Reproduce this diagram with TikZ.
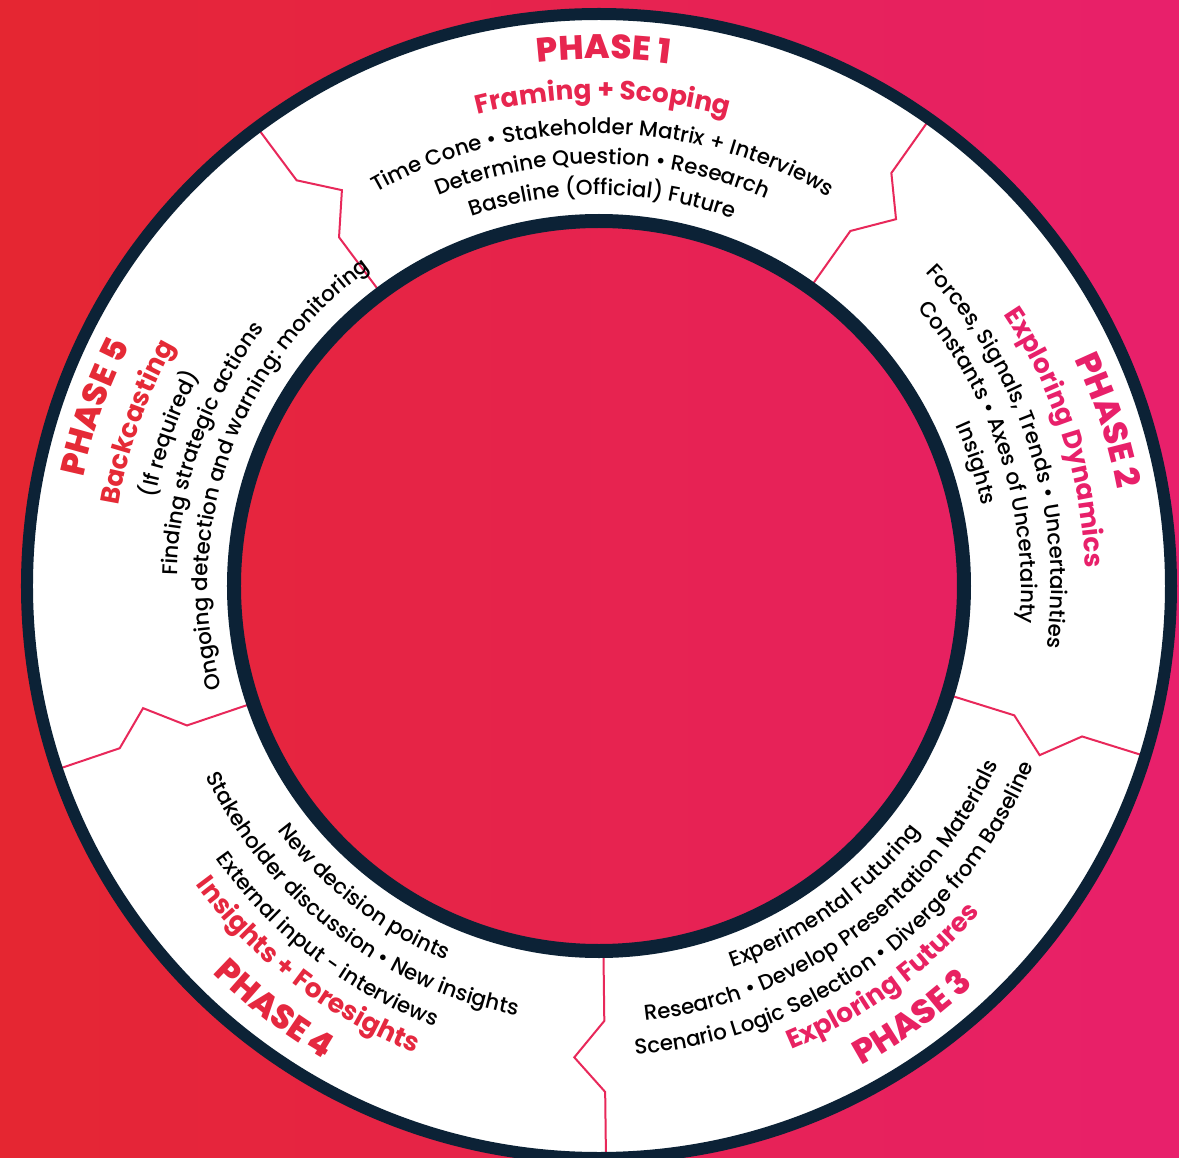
\documentclass[tikz,border=0pt]{standalone}
\usepackage{fontspec}
\IfFontExistsTF{Poppins Medium}{%
  \setmainfont{Poppins}[UprightFont={* Medium},BoldFont={* Bold}]}{%
  \setmainfont{Poppins}}
\IfFontExistsTF{Poppins ExtraBold}{%
  \newfontfamily\heavyfam{Poppins ExtraBold}}{%
  \newfontfamily\heavyfam{Poppins}[UprightFont={* Bold}]}
\usetikzlibrary{decorations.text}
\definecolor{bgL}{HTML}{E52631}
\definecolor{bgR}{HTML}{E8206C}
\definecolor{navy}{HTML}{0C2236}
\definecolor{sepc}{HTML}{E8285A}
\definecolor{pA}{HTML}{E52A36}
\definecolor{pB}{HTML}{E5283F}
\definecolor{pC}{HTML}{E7264F}
\definecolor{pD}{HTML}{E82262}
\definecolor{pE}{HTML}{E8206A}
\newcommand\titlef{\fontsize{34}{34}\selectfont\heavyfam}
\newcommand\subf{\fontsize{26.5}{26.5}\selectfont\bfseries}
\newcommand\bodyf{\fontsize{21.5}{21.5}\selectfont\color{black}}
\newcommand\cwtext[4]{\path[decorate,decoration={text along path,text align=center,text={|#3|#4}}] (#2+80:#1) arc[start angle=#2+80,end angle=#2-80,radius=#1];}
\newcommand\ccwtext[4]{\path[decorate,decoration={text along path,text align=center,text={|#3|#4}}] (#2-80:#1) arc[start angle=#2-80,end angle=#2+80,radius=#1];}
\tikzset{sepline/.style={sepc,line width=2bp,line join=miter}}
\begin{document}
\begin{tikzpicture}[x=1bp,y=1bp]
\useasboundingbox (-599,-572) rectangle (580,586);
\clip (-599,-572) rectangle (580,586);
\shade[left color=bgL,right color=bgR] (-599,-572) rectangle (580,586);
\fill[white,even odd rule] (0,0) circle[radius=572] (0,0) circle[radius=365];
\foreach \t in {54.7,126.7,198.7,270.7,342.7}
  \draw[sepline] (\t:567) -- (\t:506) -- (\t-3.7:472) -- (\t:435) -- (\t:371);
\draw[navy,line width=12bp] (0,0) circle[radius=572];
\draw[navy,line width=14bp] (0,0) circle[radius=365];
% Phase 1
\cwtext{527}{89.5}{\titlef\color{pC}}{PHASE 1}
\cwtext{487}{89.5}{\subf\color{pC}}{Framing + Scoping}
\cwtext{452}{89.5}{\bodyf}{Time Cone • Stakeholder Matrix + Interviews}
\cwtext{422}{89.5}{\bodyf}{Determine Question • Research}
\cwtext{391}{89.5}{\bodyf}{Baseline (Official) Future}
% Phase 2
\cwtext{527}{18}{\titlef\color{pE}}{PHASE 2}
\cwtext{487}{18}{\subf\color{pE}}{Exploring Dynamics}
\cwtext{452}{18}{\bodyf}{Forces, Signals, Trends • Uncertainties}
\cwtext{422}{18}{\bodyf}{Constants • Axes of Uncertainty}
\cwtext{391}{18}{\bodyf}{Insights}
% Phase 3
\ccwtext{547}{-54}{\titlef\color{pD}}{PHASE 3}
\ccwtext{502}{-54}{\subf\color{pD}}{Exploring Futures}
\ccwtext{470}{-54}{\bodyf}{Scenario Logic Selection • Diverge from Baseline}
\ccwtext{437}{-54}{\bodyf}{Research • Develop Presentation Materials}
\ccwtext{404}{-54}{\bodyf}{Experimental Futuring}
% Phase 4
\ccwtext{547}{232.5}{\titlef\color{pB}}{PHASE 4}
\ccwtext{502}{232.5}{\subf\color{pB}}{Insights + Foresights}
\ccwtext{470}{232.5}{\bodyf}{External input - interviews}
\ccwtext{437}{232.5}{\bodyf}{Stakeholder discussion • New insights}
\ccwtext{404}{232.5}{\bodyf}{New decision points}
% Phase 5
\cwtext{527}{160.5}{\titlef\color{pA}}{PHASE 5}
\cwtext{487}{160.5}{\subf\color{pA}}{Backcasting}
\cwtext{452}{160.5}{\bodyf}{(If required)}
\cwtext{422}{160.5}{\bodyf}{Finding strategic actions}
\cwtext{391}{160.5}{\bodyf}{Ongoing detection and warning: monitoring}
\end{tikzpicture}
\end{document}
